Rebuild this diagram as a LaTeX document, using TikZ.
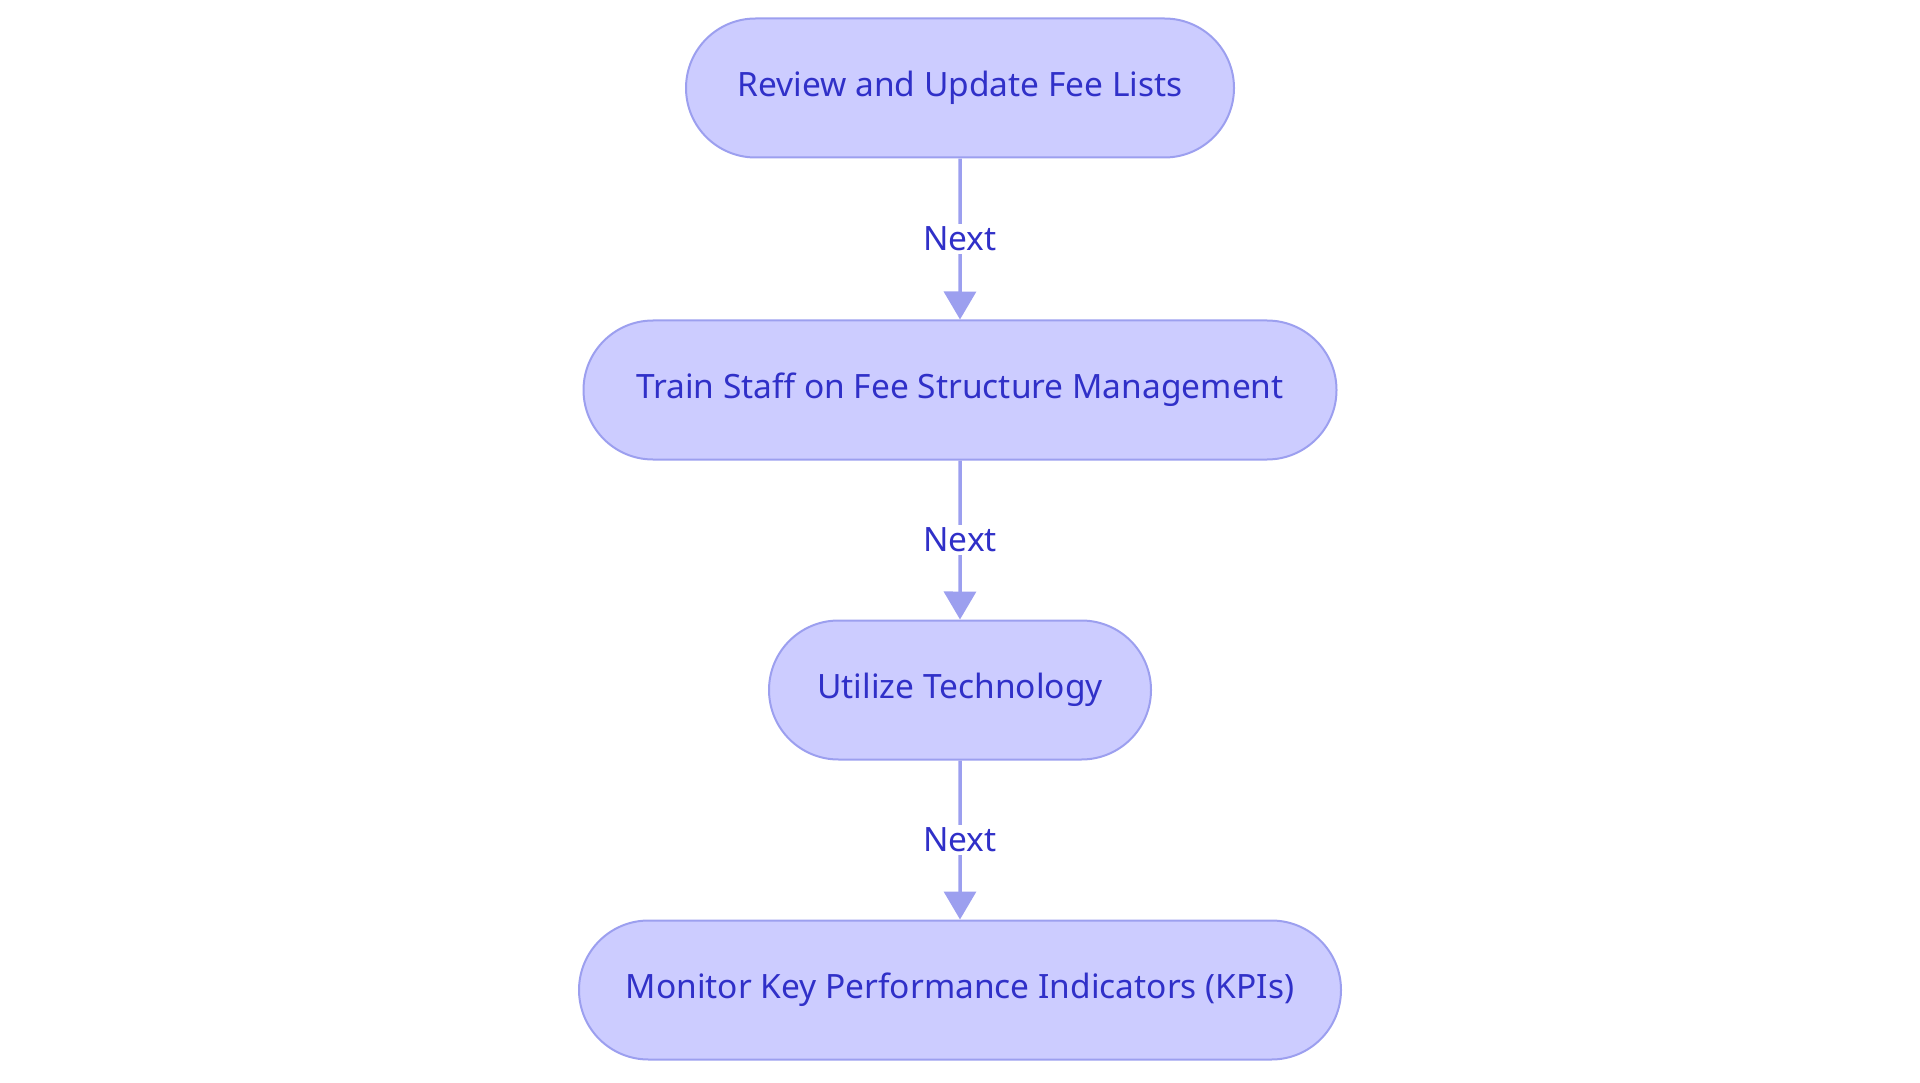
\documentclass[tikz,border=0pt]{standalone}
\usepackage{fontspec}
\setmainfont{Noto Sans}
\usetikzlibrary{arrows.meta,shapes.misc}
\definecolor{fillc}{HTML}{CCCCFF}
\definecolor{linec}{HTML}{9C9FEF}
\definecolor{textc}{HTML}{3030C8}
\begin{document}
\begin{tikzpicture}[x=1pt,y=-1pt,
  box/.style={rounded rectangle,draw=linec,line width=2pt,fill=fillc,text=textc,
    font=\fontsize{33.5}{38}\selectfont,minimum height=139pt,inner sep=0pt},
  arr/.style={draw=linec,line width=3.5pt,-{Triangle[length=28pt,width=32pt]}},
  lab/.style={fill=white,text=textc,font=\fontsize{33.5}{38}\selectfont,inner sep=3pt}]
\useasboundingbox (0,0) rectangle (1920,1083);
\node[box,minimum width=548pt] (a) at (960,88) {Review and Update Fee Lists};
\node[box,minimum width=753pt] (b) at (960,390) {Train Staff on Fee Structure Management};
\node[box,minimum width=382pt] (c) at (960,690) {Utilize Technology};
\node[box,minimum width=762pt] (d) at (960,990) {Monitor Key Performance Indicators (KPIs)};
\draw[arr] (a) -- node[lab] (l1) {Next} (b);
\draw[arr] (b) -- node[lab] (l2) {Next} (c);
\draw[arr] (c) -- node[lab] (l3) {Next} (d);
\end{tikzpicture}
\end{document}
